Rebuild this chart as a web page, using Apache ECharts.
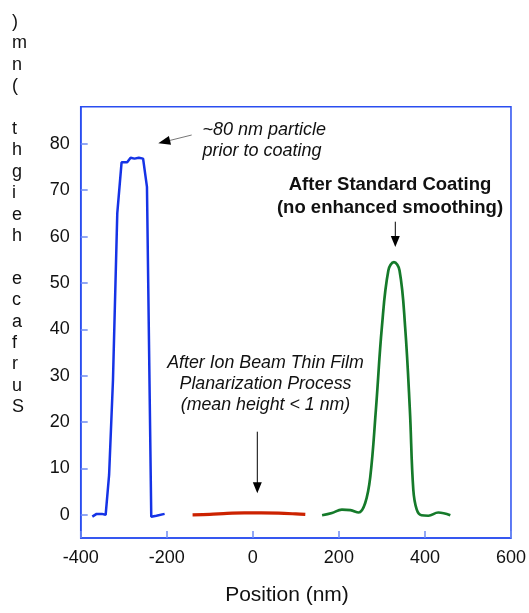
<!DOCTYPE html>
<html>
<head>
<meta charset="utf-8">
<script src="https://cdn.jsdelivr.net/npm/echarts@6/dist/echarts.min.js"></script>
<style>
html,body{margin:0;padding:0;background:#fff;}
#chart{width:529px;height:613px;}
</style>
</head>
<body>
<div id="chart"></div>
<script>
// Data: [position (nm), surface height (nm)]
const beforeCoating = [
  [-373,-0.4],[-363,0.2],[-351,0.2],[-342,0.0],[-334,8.6],[-325,29],[-315,65],
  [-305,76],[-292,76],[-284,77],[-275,76.8],[-265,77],[-255,76.8],[-246,70.7],
  [-236,-0.4],[-224,-0.2],[-205,0.2]
];
const afterIonBeam = [
  [-140,0.0],[-100,0.1],[-60,0.3],[-20,0.4],[20,0.4],[60,0.35],[100,0.2],[122,0.1]
];
const afterStandard = [
  [161,-0.1],[184,0.4],[207,1.1],[227,1.0],[246,0.5],[261,2.5],[273,8.2],[286,22.6],
  [300,40.5],[315,52.7],[328,54.5],[341,52.7],[354,40.5],[365,22.6],[373,5.4],
  [381,1.1],[392,-0.1],[408,-0.2],[431,0.5],[459,-0.1]
];
const yTicks = [0,10,20,30,40,50,60,70,80];
const yLabelText = 'Surface height (nm)';
const xTitle = 'Position (nm)';
const noteParticle = '~80 nm particle\nprior to coating';
const noteStandard = 'After Standard Coating\n(no enhanced smoothing)';
const noteIon = 'After Ion Beam Thin Film\nPlanarization Process\n(mean height < 1 nm)';

const FONT = '"Liberation Sans", Arial, Helvetica, sans-serif';
const AXIS_BLUE = '#2a4ef0';
const TICK_BLUE = '#6f8cf2';

const chart = echarts.init(document.getElementById('chart'), null, {renderer:'canvas'});

function arrowHead(tx, ty, ux, uy, len, half) {
  const bx = tx - ux*len, by = ty - uy*len;
  const nx = -uy*half, ny = ux*half;
  return [[tx,ty],[bx+nx,by+ny],[bx-nx,by-ny]];
}

const stackedLabel = yLabelText.split('').reverse().join('\n');

chart.setOption({
  animation:false,
  backgroundColor:'#fff',
  grid:{left:80.7, right:17.3, top:106.7, bottom:75, show:true, borderColor:AXIS_BLUE, borderWidth:1.5, backgroundColor:'transparent'},
  xAxis:{
    type:'value', min:-400, max:600, interval:200,
    axisLine:{show:true, onZero:false, lineStyle:{color:AXIS_BLUE, width:1.5}},
    axisTick:{show:true, inside:true, length:7, lineStyle:{color:TICK_BLUE, width:1.5}},
    axisLabel:{fontFamily:FONT, fontSize:18, color:'#111', margin:11},
    splitLine:{show:false}
  },
  yAxis:{
    type:'value', min:-5, max:88,
    axisLine:{show:true, onZero:false, lineStyle:{color:AXIS_BLUE, width:1.5}},
    axisTick:{show:true, inside:true, length:7, customValues:yTicks, lineStyle:{color:TICK_BLUE, width:1.5}},
    axisLabel:{fontFamily:FONT, fontSize:18, color:'#111', margin:11, customValues:yTicks},
    splitLine:{show:false}
  },
  series:[
    {type:'line', data:beforeCoating, symbol:'none', lineStyle:{color:'#1533e6', width:2.5}, z:3},
    {type:'line', data:afterIonBeam, symbol:'none', smooth:0.3, lineStyle:{color:'#cc2200', width:3.2}, z:3},
    {type:'line', data:afterStandard, symbol:'none', smooth:0.4, lineStyle:{color:'#157a2a', width:2.7}, z:3}
  ],
  graphic:[
    {type:'text', left:12, top:11.3, style:{text:stackedLabel, fontFamily:FONT, fontSize:18, lineHeight:21.4, fill:'#111', align:'left'}},
    {type:'text', x:287, y:595, style:{text:xTitle, fontFamily:FONT, fontSize:21, fill:'#111', align:'center', verticalAlign:'middle'}},
    // particle note
    {type:'text', x:202.5, y:140.3, style:{text:noteParticle, fontFamily:FONT, fontSize:18, fontStyle:'italic', lineHeight:20.7, fill:'#111', align:'left', verticalAlign:'middle'}},
    {type:'line', shape:{x1:191.7, y1:135, x2:170, y2:140.4}, style:{stroke:'#777', lineWidth:1}},
    {type:'polygon', shape:{points:arrowHead(158.3,143.3,-0.971,0.241,12,4.5)}, style:{fill:'#000'}},
    // standard coating note
    {type:'text', x:390, y:196.5, style:{text:noteStandard, fontFamily:FONT, fontSize:18.5, fontWeight:'bold', lineHeight:23, fill:'#111', align:'center', verticalAlign:'middle'}},
    {type:'line', shape:{x1:395.3, y1:221.7, x2:395.3, y2:237}, style:{stroke:'#000', lineWidth:1}},
    {type:'polygon', shape:{points:arrowHead(395.3,247,0,1,11,4.5)}, style:{fill:'#000'}},
    // ion beam note
    {type:'text', x:265.5, y:384.3, style:{text:noteIon, fontFamily:FONT, fontSize:17.8, fontStyle:'italic', lineHeight:21, fill:'#111', align:'center', verticalAlign:'middle'}},
    {type:'line', shape:{x1:257.3, y1:431.7, x2:257.3, y2:483}, style:{stroke:'#000', lineWidth:1}},
    {type:'polygon', shape:{points:arrowHead(257.3,493.3,0,1,11,4.5)}, style:{fill:'#000'}}
  ]
});
</script>
</body>
</html>
